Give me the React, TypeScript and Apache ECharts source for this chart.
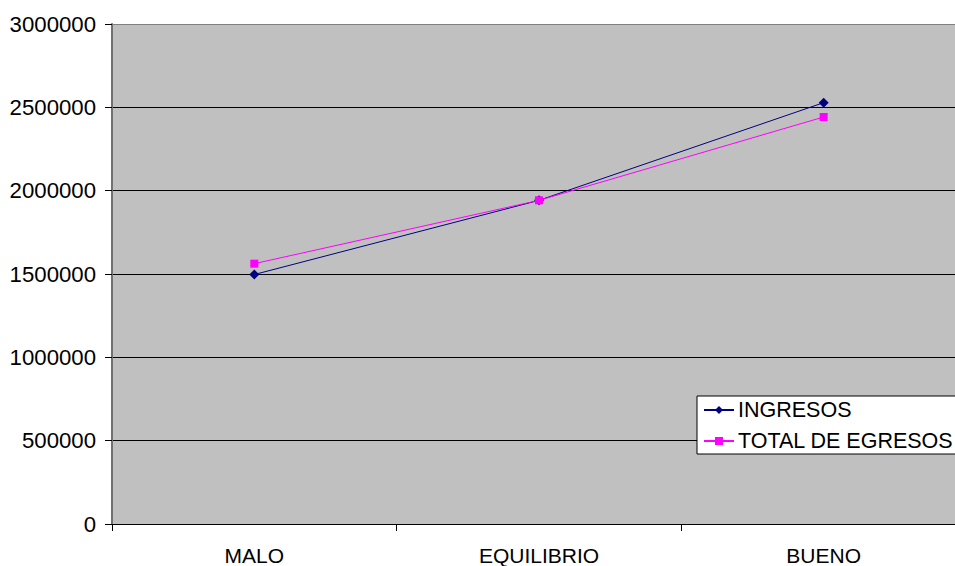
import React, { useEffect, useRef } from "react";
import * as echarts from "echarts";

const categories = ["MALO", "EQUILIBRIO", "BUENO"];
const ingresos = [1497000, 1942000, 2528000];
const totalEgresos = [1562000, 1942000, 2442000];
const yTicks = [0, 500000, 1000000, 1500000, 2000000, 2500000, 3000000];

export default function App() {
  const ref = useRef<HTMLDivElement>(null);
  useEffect(() => {
    if (!ref.current) return;
    const chart = echarts.init(ref.current, null, { renderer: "svg" });
    const font = "'Liberation Sans', Arial, sans-serif";
    chart.setOption({
      animation: false,
      backgroundColor: "#ffffff",
      grid: {
        left: 112,
        top: 24,
        width: 854,
        height: 500,
        show: true,
        backgroundColor: "#C0C0C0",
        borderWidth: 0,
      },
      legend: {
        orient: "vertical",
        left: 697,
        top: 396,
        padding: [2, 8, 1, 6],
        itemWidth: 30,
        itemHeight: 10,
        itemGap: 7,
        backgroundColor: "#ffffff",
        borderColor: "#000000",
        borderWidth: 1,
        borderRadius: 0,
        textStyle: { fontFamily: font, fontSize: 21.5, color: "#000", lineHeight: 24, padding: [0, 0, 0, -1] },
        data: ["INGRESOS", "TOTAL DE EGRESOS"],
      },
      xAxis: {
        type: "category",
        data: categories,
        boundaryGap: true,
        axisLine: { lineStyle: { color: "#000", width: 1 } },
        axisTick: { show: true, length: 7, lineStyle: { color: "#000" } },
        axisLabel: { fontFamily: font, fontSize: 21, color: "#000", margin: 21 },
        splitLine: { show: false },
      },
      yAxis: {
        type: "value",
        min: yTicks[0],
        max: yTicks[yTicks.length - 1],
        interval: 500000,
        axisLine: { show: true, lineStyle: { color: "#707070", width: 2 } },
        axisTick: { show: true, length: 7, lineStyle: { color: "#000" } },
        axisLabel: {
          fontFamily: font,
          fontSize: 22.2,
          color: "#000",
          margin: 16,
          formatter: (v: number) => String(v),
        },
        splitLine: {
          show: true,
          lineStyle: {
            color: ["#000", "#000", "#000", "#000", "#000", "#000", "#808080"],
            width: 1,
          },
        },
      },
      series: [
        {
          name: "INGRESOS",
          type: "line",
          data: ingresos,
          symbol: "diamond",
          symbolSize: 10,
          color: "#000080",
          lineStyle: { color: "#000080", width: 1 },
          itemStyle: { color: "#000080" },
        },
        {
          name: "TOTAL DE EGRESOS",
          type: "line",
          data: totalEgresos,
          symbol: "rect",
          symbolSize: 8,
          color: "#FF00FF",
          lineStyle: { color: "#FF00FF", width: 1 },
          itemStyle: { color: "#FF00FF" },
        },
      ],
    });
    return () => chart.dispose();
  }, []);
  return (
    <div style={{ position: "fixed", left: 0, top: 0, width: 955, height: 566, overflow: "hidden", background: "#fff" }}>
      <div ref={ref} style={{ width: 980, height: 566 }} />
    </div>
  );
}
